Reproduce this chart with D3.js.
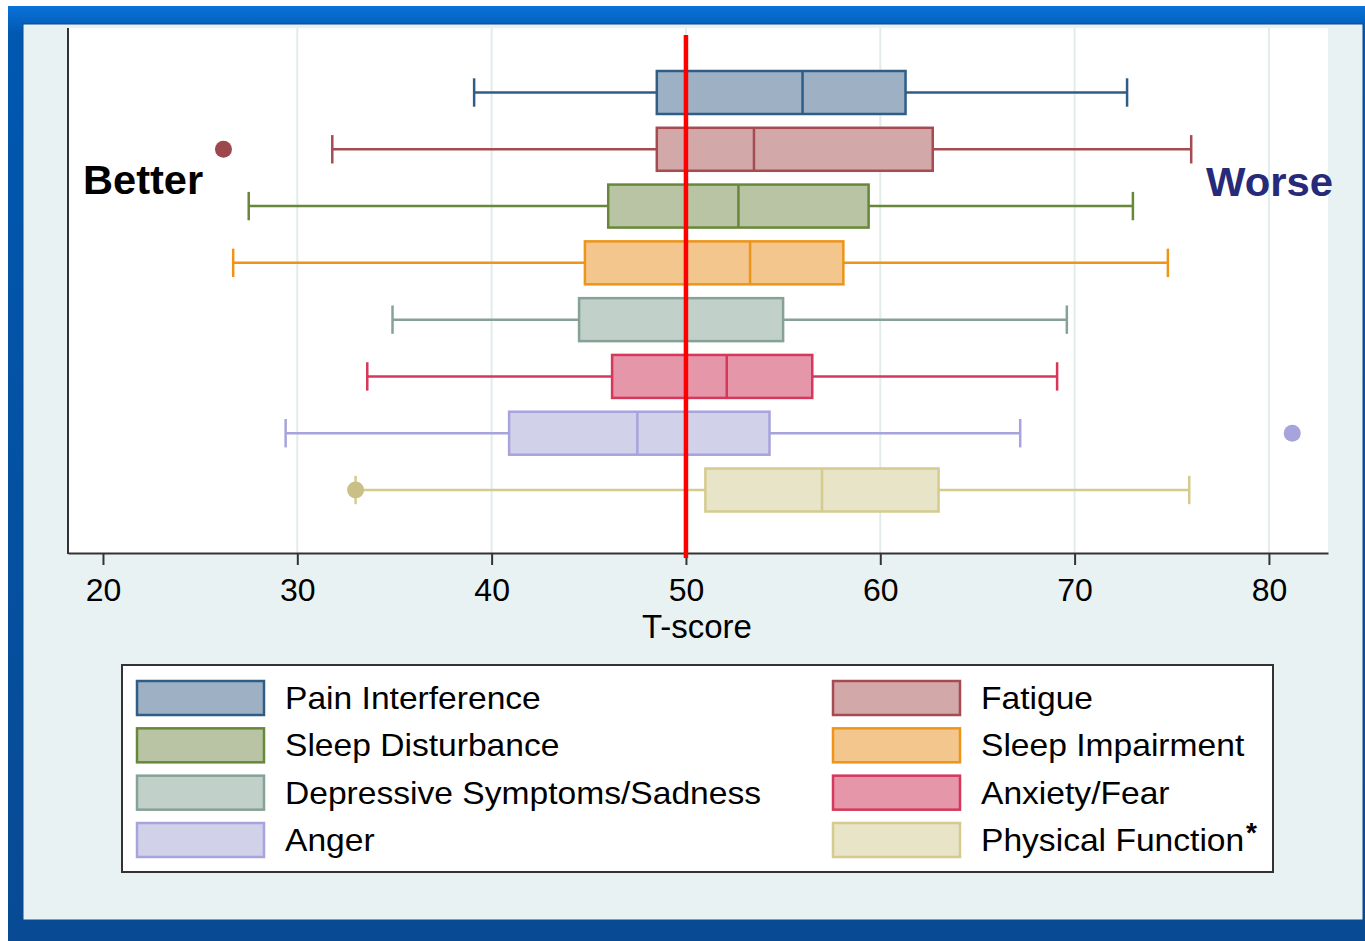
<!DOCTYPE html>
<html>
<head>
<meta charset="utf-8">
<script src="https://cdn.jsdelivr.net/npm/d3@7"></script>
<style>
  html, body { margin: 0; padding: 0; background: #ffffff; }
  svg { display: block; }
  text { font-family: "Liberation Sans", Arial, Helvetica, sans-serif; }
</style>
</head>
<body>
<svg id="chart" width="1365" height="941"></svg>
<script>
// PROMIS domains, top to bottom
const domains = [
  "Pain Interference", "Fatigue", "Sleep Disturbance", "Sleep Impairment",
  "Depressive Symptoms/Sadness", "Anxiety/Fear", "Anger", "Physical Function"
];
// Five-number summaries (T-scores)
const lowerWhisker = [39.1, 31.8, 27.5, 26.7, 34.9, 33.6, 29.4, 33.0];
const q1           = [48.5, 48.5, 46.0, 44.8, 44.5, 46.2, 40.9, 51.0];
const median       = [56.0, 53.5, 52.7, 53.3, 50.0, 52.1, 47.5, 57.0];
const q3           = [61.3, 62.7, 59.4, 58.1, 55.0, 56.5, 54.3, 63.0];
const upperWhisker = [72.7, 76.0, 73.0, 74.8, 69.6, 69.1, 67.2, 75.9];
// Outside values
const outlierDomain = ["Fatigue", "Anger", "Physical Function"];
const outlierValue  = [26.2, 81.2, 33.0];
// Axis
const tickValues = [20, 30, 40, 50, 60, 70, 80];
const gridValues = [30, 40, 50, 60, 70, 80];
const referenceT = 50;

const strokeColors = ["#2f5d86", "#a64b52", "#67873a", "#ee9419", "#86a297", "#d6375a", "#a7a3dc", "#d5cb8e"];
const fillColors   = ["#9eb1c4", "#d2a8a9", "#b8c4a4", "#f3c68d", "#c1d0c9", "#e596a9", "#d1d1ea", "#e7e4c8"];

const legendLeft  = ["Pain Interference", "Sleep Disturbance", "Depressive Symptoms/Sadness", "Anger"];
const legendRight = ["Fatigue", "Sleep Impairment", "Anxiety/Fear", "Physical Function"];

const svg = d3.select("#chart");

// Window frame
const defs = svg.append("defs");
const grad = defs.append("linearGradient").attr("id", "frameGrad")
  .attr("x1", 0).attr("y1", 0).attr("x2", 0).attr("y2", 1);
grad.append("stop").attr("offset", "0%").attr("stop-color", "#0a72d8");
grad.append("stop").attr("offset", "3%").attr("stop-color", "#0058b0");
grad.append("stop").attr("offset", "100%").attr("stop-color", "#084a94");
svg.append("rect").attr("x", 8).attr("y", 6).attr("width", 1357).attr("height", 935)
  .attr("fill", "url(#frameGrad)");
svg.append("rect").attr("x", 23).attr("y", 24).attr("width", 1340).attr("height", 896)
  .attr("fill", "#e9f2f3").attr("stroke", "#0a4a8e").attr("stroke-width", 1);

// Plot region
const plot = { left: 68, right: 1328, top: 28, bottom: 553 };
svg.append("rect").attr("x", plot.left).attr("y", plot.top)
  .attr("width", plot.right - plot.left).attr("height", plot.bottom - plot.top)
  .attr("fill", "#ffffff");

const x = d3.scaleLinear().domain([18.2, 83.04]).range([plot.left, plot.right]);
const y = d3.scalePoint().domain(domains).range([92.5, 490]);
const boxH = y.step() * 0.757;
const capH = y.step() * 0.5;

// Gridlines
svg.append("g").selectAll("line").data(gridValues).join("line")
  .attr("x1", d => x(d)).attr("x2", d => x(d))
  .attr("y1", plot.top).attr("y2", plot.bottom)
  .attr("stroke", "#e3eced").attr("stroke-width", 2);

// Boxes
const rows = domains.map((name, i) => ({
  name, lo: lowerWhisker[i], q1: q1[i], med: median[i], q3: q3[i], hi: upperWhisker[i],
  stroke: strokeColors[i], fill: fillColors[i]
}));

const g = svg.append("g").selectAll("g").data(rows).join("g");
g.append("line")
  .attr("x1", d => x(d.lo)).attr("x2", d => x(d.q1))
  .attr("y1", d => y(d.name)).attr("y2", d => y(d.name))
  .attr("stroke", d => d.stroke).attr("stroke-width", 2.5);
g.append("line")
  .attr("x1", d => x(d.q3)).attr("x2", d => x(d.hi))
  .attr("y1", d => y(d.name)).attr("y2", d => y(d.name))
  .attr("stroke", d => d.stroke).attr("stroke-width", 2.5);
g.selectAll("line.cap").data(d => [d.lo, d.hi].map(v => ({ v, d }))).join("line")
  .attr("class", "cap")
  .attr("x1", e => x(e.v)).attr("x2", e => x(e.v))
  .attr("y1", e => y(e.d.name) - capH / 2).attr("y2", e => y(e.d.name) + capH / 2)
  .attr("stroke", e => e.d.stroke).attr("stroke-width", 2.5);
g.append("rect")
  .attr("x", d => x(d.q1)).attr("width", d => x(d.q3) - x(d.q1))
  .attr("y", d => y(d.name) - boxH / 2).attr("height", boxH)
  .attr("fill", d => d.fill).attr("stroke", d => d.stroke).attr("stroke-width", 2.5);
g.append("line")
  .attr("x1", d => x(d.med)).attr("x2", d => x(d.med))
  .attr("y1", d => y(d.name) - boxH / 2).attr("y2", d => y(d.name) + boxH / 2)
  .attr("stroke", d => d.stroke).attr("stroke-width", 2.5);

// Outside values
svg.append("g").selectAll("circle").data(outlierDomain).join("circle")
  .attr("cx", (d, i) => x(outlierValue[i]))
  .attr("cy", d => y(d))
  .attr("r", 8.5)
  .attr("fill", d => d3.color(strokeColors[domains.indexOf(d)]).darker(d === "Anger" ? 0 : 0.15));

// Axes
const axisG = svg.append("g").attr("transform", `translate(0,${plot.bottom})`)
  .call(d3.axisBottom(x).tickValues(tickValues).tickSize(12).tickSizeOuter(0).tickPadding(13));
axisG.select(".domain").attr("stroke", "#333").attr("stroke-width", 2);
axisG.selectAll(".tick line").attr("stroke", "#333").attr("stroke-width", 2);
axisG.selectAll(".tick text").attr("font-size", 32).attr("fill", "#000")
  .attr("font-family", "'Liberation Sans', Arial, sans-serif");
svg.append("line").attr("x1", plot.left).attr("x2", plot.left)
  .attr("y1", plot.top).attr("y2", plot.bottom + 1)
  .attr("stroke", "#333").attr("stroke-width", 2);

svg.append("text").attr("x", x(50) + 11).attr("y", 638)
  .attr("text-anchor", "middle").attr("font-size", 33).attr("fill", "#000")
  .text("T-score");

// Reference line at the population mean
svg.append("line").attr("x1", x(referenceT)).attr("x2", x(referenceT))
  .attr("y1", 35).attr("y2", 558)
  .attr("stroke", "#ff0000").attr("stroke-width", 4.5);

// Direction labels
svg.append("text").attr("transform", "translate(83,194) scale(1.04,1)")
  .attr("font-size", 40).attr("font-weight", "bold").attr("fill", "#000")
  .text("Better");
svg.append("text").attr("transform", "translate(1206,196) scale(1.02,1)")
  .attr("font-size", 41).attr("font-weight", "bold").attr("fill", "#262a78")
  .text("Worse");

// Legend
svg.append("rect").attr("x", 122).attr("y", 665).attr("width", 1151).attr("height", 207)
  .attr("fill", "#ffffff").attr("stroke", "#333").attr("stroke-width", 2);
const legendRowY = d3.scalePoint().domain(d3.range(4)).range([698, 840]);
const legendCols = [
  { names: legendLeft, swatchX: 137, textX: 285 },
  { names: legendRight, swatchX: 833, textX: 981 }
];
legendCols.forEach(col => {
  const lg = svg.append("g").selectAll("g").data(col.names).join("g")
    .attr("transform", (d, i) => `translate(0,${legendRowY(i)})`);
  lg.append("rect").attr("x", col.swatchX).attr("y", -17).attr("width", 127).attr("height", 34)
    .attr("fill", d => fillColors[domains.indexOf(d)])
    .attr("stroke", d => strokeColors[domains.indexOf(d)]).attr("stroke-width", 2.5);
  lg.append("text").attr("transform", `translate(${col.textX},11) scale(1.05,1)`)
    .attr("font-size", 32).attr("fill", "#000")
    .text(d => d);
  lg.filter(d => d === "Physical Function").append("text")
    .attr("x", 1246).attr("y", 2).attr("font-size", 28).attr("font-weight", "bold").attr("fill", "#000")
    .text("*");
});
</script>
</body>
</html>
